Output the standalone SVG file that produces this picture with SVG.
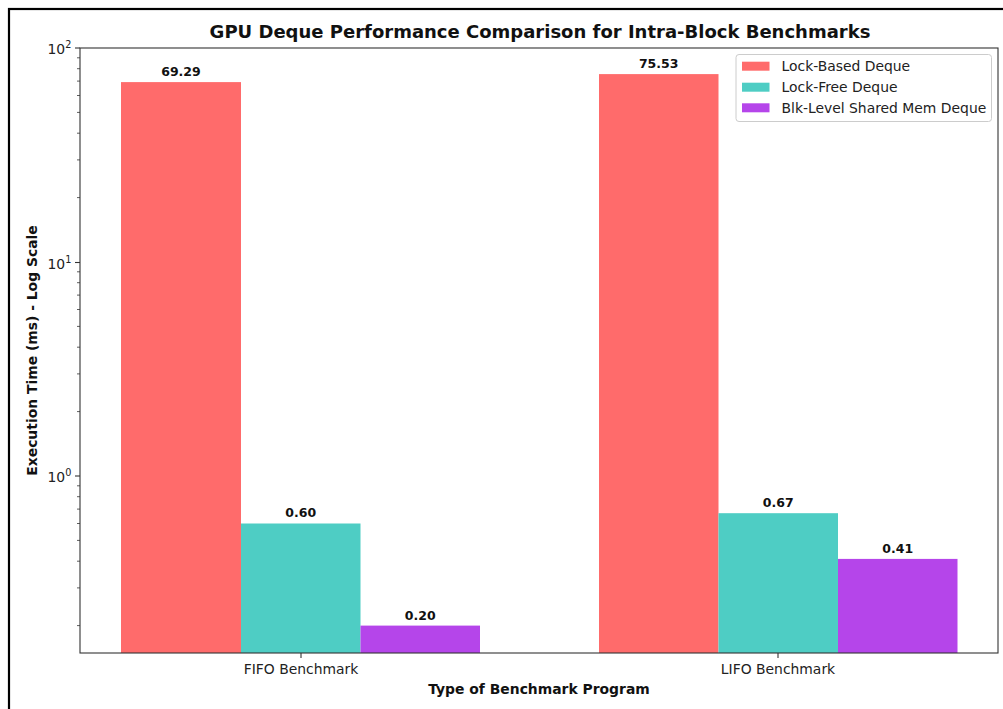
<svg xmlns="http://www.w3.org/2000/svg" width="1003" height="709" viewBox="0 0 1003 709">
<style>
text{font-family:"DejaVu Sans","Liberation Sans",sans-serif;fill:#222}
.t{font-size:18px;font-weight:bold;fill:#111}
.lab{font-size:13.9px;font-weight:bold;fill:#111}
.tick{font-size:13.9px}
.sup{font-size:9.7px}
.val{font-size:12.5px;font-weight:bold;fill:#111;text-anchor:middle}
.leg{font-size:13.9px}
.red{fill:#FF6B6B}.teal{fill:#4ECDC4}.pur{fill:#B545EA}
.maj{stroke:#333;stroke-width:1.1}
.min{stroke:#333;stroke-width:0.8}
</style>
<rect width="1003" height="709" fill="#fff"/>
<rect x="9" y="9" width="1010" height="720" fill="none" stroke="#000" stroke-width="2.2"/>
<text class="t" x="540" y="38" text-anchor="middle">GPU Deque Performance Comparison for Intra-Block Benchmarks</text>
<g id="bars">
<g id="fifo">
<rect class="red" x="121" y="82.1" width="120" height="570.9"/>
<rect class="teal" x="241" y="523.5" width="119.5" height="129.5"/>
<rect class="pur" x="360.5" y="625.6" width="119.5" height="27.4"/>
<text class="val" x="181" y="76">69.29</text>
<text class="val" x="300.7" y="517">0.60</text>
<text class="val" x="420.2" y="619.5">0.20</text>
</g>
<g id="lifo">
<rect class="red" x="599" y="74.1" width="119.5" height="578.9"/>
<rect class="teal" x="718.5" y="513.2" width="119.5" height="139.8"/>
<rect class="pur" x="838" y="558.9" width="119.5" height="94.1"/>
<text class="val" x="658.7" y="68">75.53</text>
<text class="val" x="778.2" y="507">0.67</text>
<text class="val" x="897.7" y="552.5">0.41</text>
</g>
</g>
<g id="axes">
<rect x="80" y="48" width="918" height="605" fill="none" stroke="#333" stroke-width="1.1"/>
<g class="maj">
<line x1="75" y1="48" x2="80" y2="48"/>
<line x1="75" y1="262.5" x2="80" y2="262.5"/>
<line x1="75" y1="476" x2="80" y2="476"/>
<line x1="301" y1="653" x2="301" y2="658"/>
<line x1="778" y1="653" x2="778" y2="658"/>
</g>
<g class="min">
<line x1="77" y1="197.6" x2="80" y2="197.6"/><line x1="77" y1="159.9" x2="80" y2="159.9"/><line x1="77" y1="133.2" x2="80" y2="133.2"/><line x1="77" y1="112.4" x2="80" y2="112.4"/><line x1="77" y1="95.5" x2="80" y2="95.5"/><line x1="77" y1="81.1" x2="80" y2="81.1"/><line x1="77" y1="68.7" x2="80" y2="68.7"/><line x1="77" y1="57.8" x2="80" y2="57.8"/>
<line x1="77" y1="411.6" x2="80" y2="411.6"/><line x1="77" y1="373.9" x2="80" y2="373.9"/><line x1="77" y1="347.2" x2="80" y2="347.2"/><line x1="77" y1="326.4" x2="80" y2="326.4"/><line x1="77" y1="309.5" x2="80" y2="309.5"/><line x1="77" y1="295.1" x2="80" y2="295.1"/><line x1="77" y1="282.7" x2="80" y2="282.7"/><line x1="77" y1="271.8" x2="80" y2="271.8"/>
<line x1="77" y1="625.6" x2="80" y2="625.6"/><line x1="77" y1="587.9" x2="80" y2="587.9"/><line x1="77" y1="561.2" x2="80" y2="561.2"/><line x1="77" y1="540.4" x2="80" y2="540.4"/><line x1="77" y1="523.5" x2="80" y2="523.5"/><line x1="77" y1="509.1" x2="80" y2="509.1"/><line x1="77" y1="496.7" x2="80" y2="496.7"/><line x1="77" y1="485.8" x2="80" y2="485.8"/>
</g>
<text class="tick" x="47.5" y="54">10<tspan class="sup" dy="-6">2</tspan></text>
<text class="tick" x="47.5" y="268.5">10<tspan class="sup" dy="-6">1</tspan></text>
<text class="tick" x="47.5" y="482">10<tspan class="sup" dy="-6">0</tspan></text>
<text class="tick" x="301" y="674" text-anchor="middle">FIFO Benchmark</text>
<text class="tick" x="778" y="674" text-anchor="middle">LIFO Benchmark</text>
<text class="lab" x="539" y="694" text-anchor="middle">Type of Benchmark Program</text>
<text class="lab" transform="translate(37,350.5) rotate(-90)" text-anchor="middle">Execution Time (ms) - Log Scale</text>
</g>
<g id="legend">
<rect x="736" y="54.5" width="255.5" height="67" rx="3" fill="#fff" fill-opacity="0.8" stroke="#ccc" stroke-width="1"/>
<rect class="red" x="742" y="61.7" width="27.5" height="9"/>
<rect class="teal" x="742" y="82.7" width="27.5" height="9"/>
<rect class="pur" x="742" y="103.3" width="27.5" height="9"/>
<text class="leg" x="781.5" y="71">Lock-Based Deque</text>
<text class="leg" x="781.5" y="92">Lock-Free Deque</text>
<text class="leg" x="781.5" y="113">Blk-Level Shared Mem Deque</text>
</g>
</svg>
